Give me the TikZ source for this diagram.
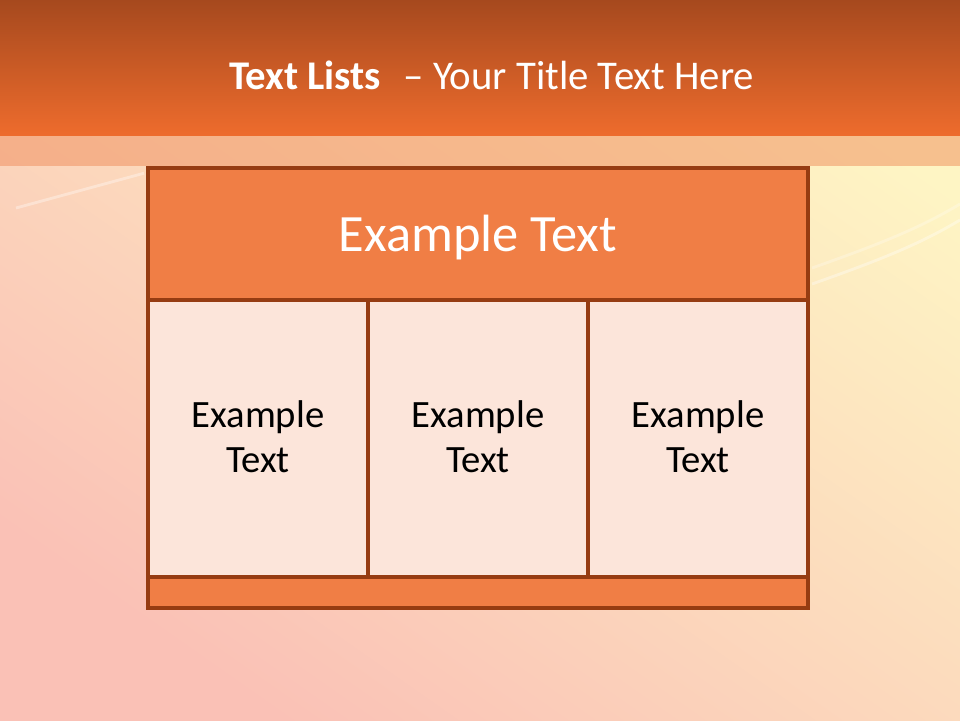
\documentclass[tikz,border=0pt]{standalone}
\usepackage{fontspec}
\setmainfont{Carlito}
\usetikzlibrary{positioning, calc, backgrounds}
\usepackage{xcolor}
\definecolor{bgpink}{RGB}{250, 193, 182}
\definecolor{bgpeach}{RGB}{253, 218, 196}
\definecolor{bgyellow}{RGB}{254, 245, 196}
\definecolor{bartop}{RGB}{166, 73, 30}
\definecolor{barbottom}{RGB}{238, 108, 45}
\definecolor{bandorange}{RGB}{240, 140, 90}
\definecolor{tableorange}{RGB}{240, 126, 69}
\definecolor{tableedge}{RGB}{150, 60, 18}
\definecolor{cellpink}{RGB}{252, 229, 218}
\tikzset{
  headbox/.style  = {rectangle, draw=tableedge, fill=tableorange, line width=2.2pt, outer sep=0pt, inner sep=0pt, align=center},
  cellbox/.style  = {rectangle, draw=tableedge, fill=cellpink, line width=2.2pt, outer sep=0pt, inner sep=0pt, align=center},
  streak/.style   = {white, opacity=0.35, line width=2pt},
}

\begin{document}
\begin{tikzpicture}[
    titletext/.style={text=white, font=\fontsize{29}{35}\selectfont},
    headtext/.style={text=white, font=\fontsize{37.3}{44}\selectfont},
    celltext/.style={text=black, align=center, font=\fontsize{27.5}{32}\selectfont}
]

% ================= Hintergrund =================
\useasboundingbox (0, 0) rectangle (24, 18);
\shade [shading=axis, top color=bgyellow, middle color=bgpeach, bottom color=bgpink, shading angle=-35] (0, 0) rectangle (24, 18);
\draw [streak] (0.4, 12.8) -- (3.6, 13.67);
\draw [streak] (20.3, 10.9) .. controls (22, 11.5) and (23, 11.9) .. (24, 12.5);
\draw [streak, opacity=0.25] (20.3, 11.3) .. controls (22, 11.9) and (23, 12.3) .. (24, 12.9);
\fill [bandorange, opacity=0.5] (0, 13.85) rectangle (24, 14.6);

% ================= Titelleiste =================
\shade [top color=bartop, bottom color=barbottom] (0, 14.6) rectangle (24, 18);
\node (title) [titletext] at (12.29, 16.12) {\textbf{Text Lists}\hspace{0.55em}– Your Title Text Here};

% ================= Tabelle =================
\node (head)   [headbox, minimum width=16.5cm, minimum height=3.3cm]   at (11.95, 12.15)  {};
\node (cellA)  [cellbox, minimum width=5.5cm, minimum height=6.925cm]  at (6.45, 7.0375)  {};
\node (cellB)  [cellbox, minimum width=5.5cm, minimum height=6.925cm]  at (11.95, 7.0375) {};
\node (cellC)  [cellbox, minimum width=5.5cm, minimum height=6.925cm]  at (17.45, 7.0375) {};
\node (foot)   [headbox, minimum width=16.5cm, minimum height=0.775cm] at (11.95, 3.1875) {};

% Beschriftung
\node [headtext] at ([yshift=-0.08cm]head.center) {Example Text};
\node [celltext] at ([yshift=0.05cm]cellA.center) {Example\\Text};
\node [celltext] at ([yshift=0.05cm]cellB.center) {Example\\Text};
\node [celltext] at ([yshift=0.05cm]cellC.center) {Example\\Text};

\end{tikzpicture}
\end{document}
